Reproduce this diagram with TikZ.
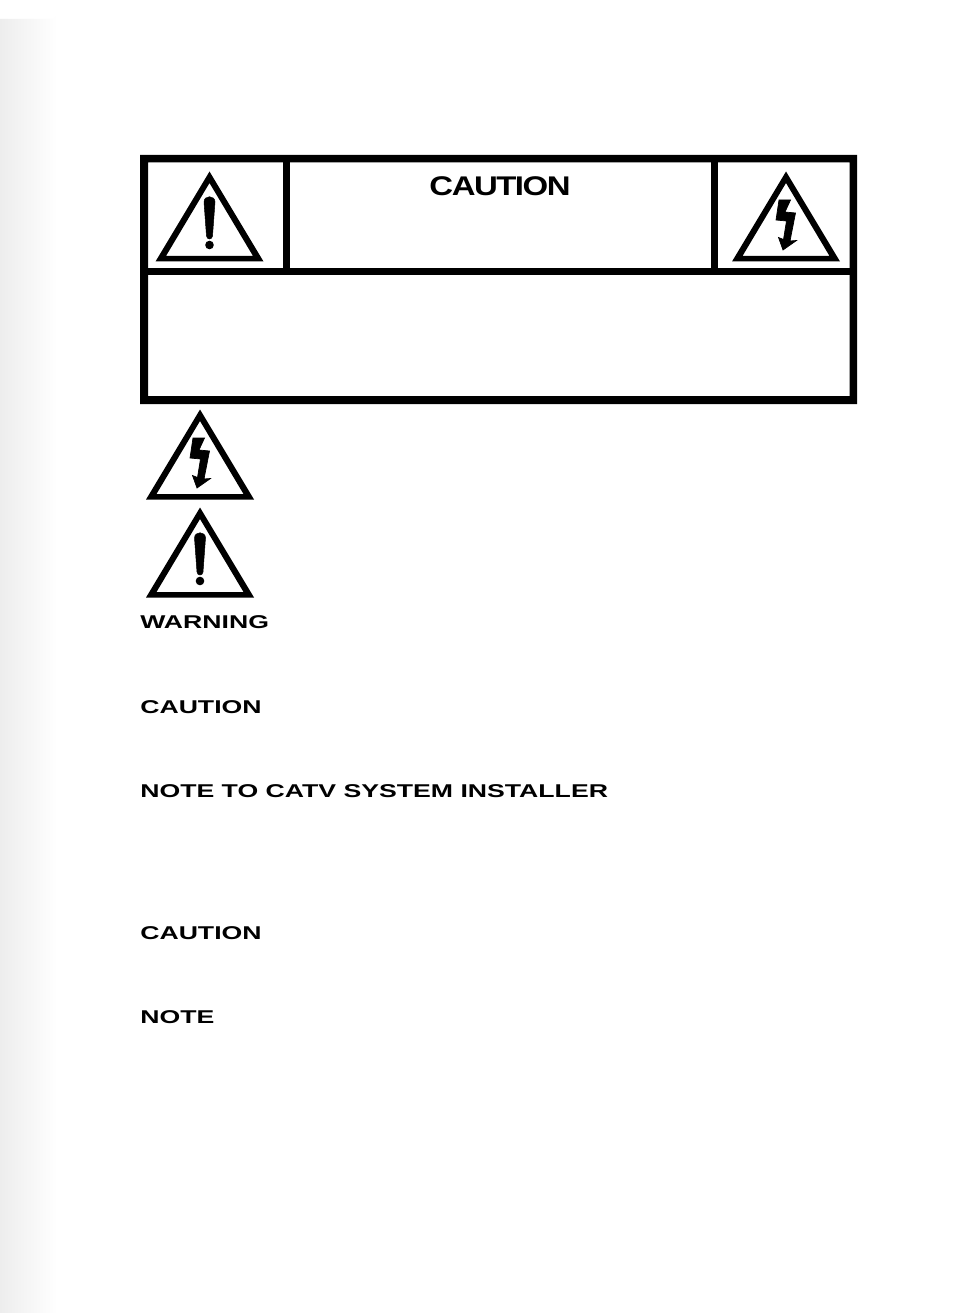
\documentclass[tikz,border=0pt]{standalone}
\usepackage{fontspec}
\setmainfont{Liberation Sans}
\newfontfamily\headfont[LetterSpace=-4.5]{Liberation Sans Bold}
\newfontfamily\labelfont{Liberation Sans Bold}
\definecolor{pagegrey}{HTML}{EDEDED}
\tikzset{
  x=1pt,y=-1pt,
  framebar/.style={fill=black,draw=none},
  heading/.style={inner sep=0pt,xscale=1.22,transform shape,font=\headfont\fontsize{27}{27}\selectfont,text=black},
  sidelabel/.style={anchor=base west,inner sep=0pt,xscale=1.44,transform shape,font=\labelfont\fontsize{18.5}{18.5}\selectfont,text=black},
  warntriangle/.pic={
    \fill[black,even odd rule] (0,-0.5) -- (54,89.5) -- (-54,89.5) -- cycle
      (0,11) -- (43.5,84) -- (-43.5,84) -- cycle;
  },
  exclaimmark/.pic={
    \filldraw[black,line width=0.5pt] (-5.5,30) .. controls (-5.5,23) and (5.5,23) .. (5.5,30)
      -- (3,64) .. controls (2.6,68) and (-2.6,68) .. (-3,64) -- cycle;
    \fill[black] (0,73) circle[radius=4.3];
  },
  boltmark/.pic={
    \filldraw[black,line width=0.7pt] (-7,28) -- (4.5,28) -- (-1,40) -- (9.5,41) -- (4,69) -- (10.5,68.5)
      -- (-3,78) -- (-7.5,65.5) -- (-2.5,67.5) -- (0.5,49) -- (-10,48) -- cycle;
  }
}
\begin{document}
\begin{tikzpicture}
\useasboundingbox (0,0) rectangle (954,1313);
\fill[white] (0,0) rectangle (954,1313);
\shade[left color=pagegrey,right color=white,shading angle=90,draw=none]
  (0,1313) -- (0,19) -- (52,19) arc[start angle=90,end angle=0,radius=5] -- (57,1313) -- cycle;
% frame
\fill[framebar,even odd rule] (140,155) rectangle (857,404) (148,162.5) rectangle (849.5,396);
\fill[framebar] (147,268.5) rectangle (850,275);
\fill[framebar] (283,162) rectangle (290,269);
\fill[framebar] (711,162) rectangle (717.5,269);
\node[heading] (headcaution) at (500,186) {CAUTION};
% symbols
\pic at (209.5,172) {warntriangle};
\pic at (209.5,172) {exclaimmark};
\pic at (786,172) {warntriangle};
\pic at (786,172) {boltmark};
\pic at (200,410) {warntriangle};
\pic at (200,410) {boltmark};
\pic at (200,508) {warntriangle};
\pic at (200,508) {exclaimmark};
% labels
\node[sidelabel] (warn) at (140,628) {WARNING};
\node[sidelabel] (caut1) at (140,713) {CAUTION};
\node[sidelabel] (catv) at (140,797) {NOTE TO CATV SYSTEM INSTALLER};
\node[sidelabel] (caut2) at (140,939) {CAUTION};
\node[sidelabel] (note) at (140,1023) {NOTE};
\end{tikzpicture}
\end{document}
